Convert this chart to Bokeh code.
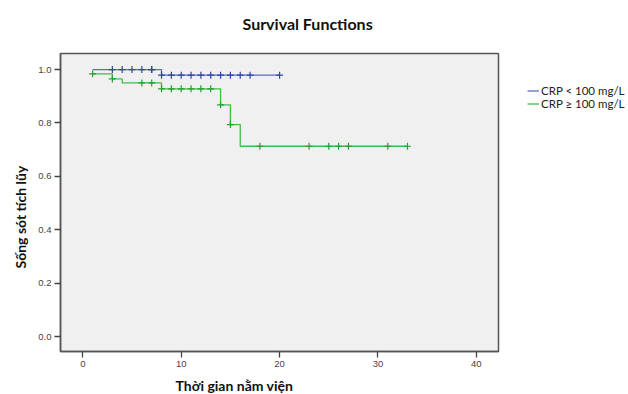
from bokeh.plotting import figure
from bokeh.models import Range1d, FixedTicker, Title, Legend, LegendItem
from bokeh.embed import file_html
from bokeh.resources import INLINE

# ---- data ----
blue_times = [1, 8, 20]
blue_surv = [1.0, 0.979, 0.979]
blue_cens_t = [3, 4, 5, 6, 7, 7, 8, 9, 10, 11, 12, 13, 14, 15, 16, 17, 20]
blue_cens_s = [1.0] * 6 + [0.979] * 11

green_times = [1, 3, 4, 8, 14, 15, 16, 33]
green_surv = [0.984, 0.965, 0.950, 0.928, 0.868, 0.794, 0.713, 0.713]
green_cens_t = [1, 3, 6, 7, 8, 9, 10, 11, 12, 13, 14, 15, 18, 23, 25, 26, 27, 31, 33]
green_cens_s = [0.984, 0.965, 0.950, 0.950] + [0.928] * 6 + [0.868, 0.794] + [0.713] * 7

x_ticks = [0, 10, 20, 30, 40]
y_ticks = [0.0, 0.2, 0.4, 0.6, 0.8, 1.0]
series_names = ["CRP < 100 mg/L", "CRP \u2265 100 mg/L"]
title_text = "Survival Functions"
x_label = "Th\u1eddi gian n\u1eb1m vi\u1ec7n"
y_label = "S\u1ed1ng s\u00f3t t\u00edch l\u0169y"

BLUE = "#5a6ebe"
BLUE_DARK = "#2f44a0"
GREEN = "#3cbf48"
GREEN_DARK = "#23a030"

p = figure(frame_width=438, frame_height=298, output_backend="svg", toolbar_location=None,
           x_range=Range1d(-2.27, 42.25), y_range=Range1d(-0.055, 1.06),
           min_border_left=60, min_border_right=130, min_border_top=53, min_border_bottom=43)
p.background_fill_color = "#f0f0f0"
p.border_fill_color = "white"
p.outline_line_color = "#555555"
p.outline_line_width = 1.5
p.grid.visible = False

p.xaxis.ticker = FixedTicker(ticks=x_ticks)
p.yaxis.ticker = FixedTicker(ticks=y_ticks)
p.yaxis.major_label_overrides = {t: f"{t:.1f}" for t in y_ticks}
for ax in (p.xaxis, p.yaxis):
    ax.minor_tick_line_color = None
    ax.major_tick_in = 0
    ax.major_tick_out = 6
    ax.major_tick_line_color = "#444444"
    ax.major_tick_line_width = 1.3
    ax.axis_line_color = "#555555"
    ax.axis_line_width = 1.5
    ax.major_label_text_font = "Liberation Sans"
    ax.major_label_text_font_size = "9.5px"
    ax.major_label_text_color = "#444444"
    ax.major_label_standoff = 3

r_blue = p.step(blue_times, blue_surv, mode="after", line_color=BLUE, line_width=1.3)
r_green = p.step(green_times, green_surv, mode="after", line_color=GREEN, line_width=1.3)
p.scatter(blue_cens_t, blue_cens_s, marker="cross", size=7, line_color=BLUE_DARK, line_width=1.2)
p.scatter(green_cens_t, green_cens_s, marker="cross", size=7, line_color=GREEN_DARK, line_width=1.2)

# default title slot left empty
p.title.text = ""

# spacer next to the frame, then the real title stacked above it
p.add_layout(Title(text=" ", text_font_size="1px", standoff=17), "above")
p.add_layout(Title(text=title_text, align="left", offset=182, text_font="Lato",
                   text_font_style="bold", text_font_size="16px", text_color="#111111",
                   standoff=2), "above")

# x label: small spacer then title below the axis
p.add_layout(Title(text=" ", text_font_size="1px", standoff=2), "below")
p.add_layout(Title(text=x_label, align="left", offset=115, text_font="Lato",
                   text_font_style="bold", text_font_size="14px", text_color="#111111",
                   standoff=0), "below")
p.add_layout(Title(text=y_label, align="left", offset=83, text_font="Lato",
                   text_font_style="bold", text_font_size="14px", text_color="#111111",
                   standoff=14), "left")

legend = Legend(items=[LegendItem(label=series_names[0], renderers=[r_blue]),
                       LegendItem(label=series_names[1], renderers=[r_green])],
                location=(29, 241), margin=0, padding=0, spacing=0,
                glyph_width=12, glyph_height=11, label_height=11, label_standoff=2,
                label_text_font="Lato", label_text_font_size="11.5px", label_text_color="#222222",
                border_line_color=None, background_fill_alpha=0)
p.add_layout(legend, "right")

open("out.html", "w").write(file_html(p, INLINE))
